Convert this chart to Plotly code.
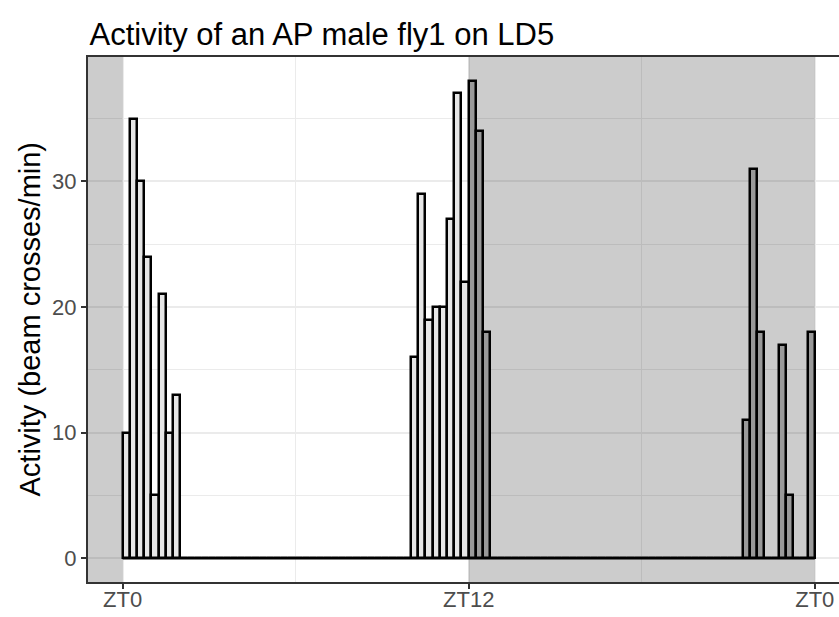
import plotly.graph_objects as go

# 15-min bins, ZT hours (bin start times), one day ZT0..ZT24
bin_hours = 0.25
activity = [
    10, 35, 30, 24, 5, 21, 10, 13,  0, 0, 0, 0, 0, 0, 0, 0,   # ZT0-4
    0, 0, 0, 0, 0, 0, 0, 0,  0, 0, 0, 0, 0, 0, 0, 0,          # ZT4-8
    0, 0, 0, 0, 0, 0, 0, 0,  16, 29, 19, 20, 20, 27, 37, 22,  # ZT8-12
    38, 34, 18, 0, 0, 0, 0, 0,  0, 0, 0, 0, 0, 0, 0, 0,       # ZT12-16
    0, 0, 0, 0, 0, 0, 0, 0,  0, 0, 0, 0, 0, 0, 0, 0,          # ZT16-20
    0, 0, 0, 0, 0, 0, 11, 31,  18, 0, 0, 17, 5, 0, 0, 18,     # ZT20-24
]
bin_start = [i * bin_hours for i in range(len(activity))]
bin_center = [t + bin_hours / 2 for t in bin_start]

tick_vals = [0, 12, 24]
tick_text = ["ZT0", "ZT12", "ZT0"]
dark_periods = [(-1.2, 0), (12, 24)]

title_text = "Activity of an AP male fly1 on LD5"
y_title = "Activity (beam crosses/min)"

FONT = "Liberation Sans, Arial, Helvetica, sans-serif"

def phase_color(t):
    return "#E6E6E6" if (t % 24) < 12 else "#C0C0C0"

bar_colors = [phase_color(t) for t in bin_start]

fig = go.Figure()
fig.add_trace(go.Bar(
    x=bin_center, y=activity, width=bin_hours,
    marker=dict(color=bar_colors, line=dict(color="black", width=2.5)),
    showlegend=False, hoverinfo="x+y",
))
# zero-height bars drawn as a baseline (as ggplot outlines do)
fig.add_trace(go.Scatter(
    x=[bin_start[0], bin_start[-1] + bin_hours], y=[0, 0], mode="lines",
    line=dict(color="black", width=2.5), showlegend=False, hoverinfo="skip",
))

for x0, x1 in dark_periods:
    fig.add_shape(type="rect", xref="x", yref="paper", x0=x0, x1=x1, y0=0, y1=1,
                  fillcolor="black", opacity=0.2, line=dict(width=0), layer="above")

fig.update_layout(
    width=839, height=617, autosize=False,
    margin=dict(l=88, r=0, t=57, b=35),
    paper_bgcolor="white", plot_bgcolor="white",
    font=dict(family=FONT, color="#4D4D4D"),
    bargap=0,
    title=dict(text=title_text, font=dict(size=31, color="black", family=FONT),
               xref="paper", x=0.002, xanchor="left",
               yref="container", y=1 - 34 / 617, yanchor="middle"),
    annotations=[dict(text=y_title, textangle=-90, xref="paper", yref="paper",
                      x=(29 - 88) / 751, y=0.5, xanchor="center", yanchor="middle",
                      showarrow=False, font=dict(size=29, color="black", family=FONT))],
)
fig.update_xaxes(
    range=[-1.2, 24.84], tickmode="array", tickvals=tick_vals, ticktext=tick_text,
    showgrid=True, gridcolor="#EBEBEB", gridwidth=1.5,
    minor=dict(tickvals=[6, 18], showgrid=True, gridcolor="#EBEBEB", gridwidth=0.8),
    showline=True, mirror=True, linecolor="#333333", linewidth=2,
    ticks="outside", ticklen=5, tickwidth=2, tickcolor="#333333",
    tickfont=dict(size=22, color="#4D4D4D", family=FONT),
    ticklabelstandoff=-8,
    zeroline=False,
)
fig.update_yaxes(
    range=[-1.9, 39.9], tickmode="linear", tick0=0, dtick=10,
    showgrid=True, gridcolor="#EBEBEB", gridwidth=1.5,
    minor=dict(tick0=5, dtick=10, showgrid=True, gridcolor="#EBEBEB", gridwidth=0.8),
    showline=True, mirror=False, linecolor="#333333", linewidth=2,
    ticks="outside", ticklen=5, tickwidth=2, tickcolor="#333333",
    tickfont=dict(size=22, color="#4D4D4D", family=FONT),
    ticklabelstandoff=0,
    zeroline=False,
)

fig.write_html("out.html")
